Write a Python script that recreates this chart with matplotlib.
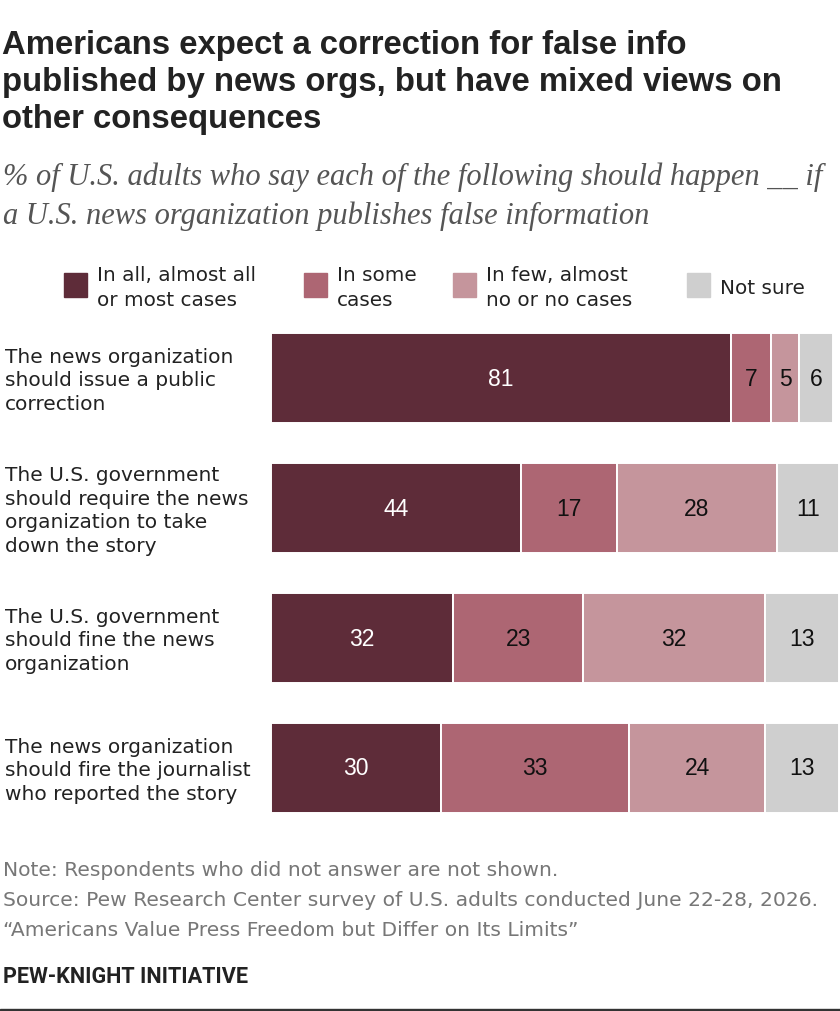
import numpy as np
import matplotlib
matplotlib.use('agg')
import matplotlib.pyplot as plt

# data
categories = ['The news organization\nshould issue a public\ncorrection',
              'The U.S. government\nshould require the news\norganization to take\ndown the story',
              'The U.S. government\nshould fine the news\norganization',
              'The news organization\nshould fire the journalist\nwho reported the story']
series = ['In all, almost all\nor most cases', 'In some\ncases',
          'In few, almost\nno or no cases', 'Not sure']
all_most = [81, 44, 32, 30]
some = [7, 17, 23, 33]
few_none = [5, 28, 32, 24]
not_sure = [6, 11, 13, 13]

colors = ['#5e2c39', '#ad6673', '#c5959c', '#cfcfcf']
txt_colors = ['white', '#111111', '#111111', '#111111']

W, H = 840, 1012
fig = plt.figure(figsize=(W/100, H/100), dpi=100)

def fx(x): return x / W
def fy(y): return 1 - y / H

# title and subtitle
fig.text(fx(2), fy(30), 'Americans expect a correction for false info\npublished by news orgs, but have mixed views on\nother consequences',
         fontsize=23.7, fontweight='bold', family='Liberation Sans', color='#222222',
         va='top', ha='left', linespacing=1.26)
fig.text(fx(3), fy(163), '% of U.S. adults who say each of the following should happen __ if\na U.S. news organization publishes false information',
         fontsize=22, style='italic', family='Liberation Serif', color='#555555',
         va='top', ha='left', linespacing=1.42)

# legend
leg_sq = [64, 304, 453, 687]
for i, (lab, c) in enumerate(zip(series, colors)):
    fig.patches.append(plt.Rectangle((fx(leg_sq[i]), fy(298)), 23/W, 24/H,
                                     transform=fig.transFigure, color=c))
    fig.text(fx(leg_sq[i] + 33), fy(288), lab, fontsize=14.4, family='DejaVu Sans',
             color='#222222', va='center', ha='left', linespacing=1.38)

# bars
ax = fig.add_axes([fx(271), fy(834), (839 - 271) / W, 520 / H])
y = np.arange(len(categories))
left = np.zeros(len(categories))
for vals, c, tc in zip([all_most, some, few_none, not_sure], colors, txt_colors):
    vals = np.array(vals)
    ax.barh(y, vals, left=left, height=0.685, color=c, edgecolor='white', linewidth=1.4)
    for yi, v, l in zip(y, vals, left):
        ax.text(l + v / 2, yi, str(v), ha='center', va='center', fontsize=16.5,
                family='Liberation Sans', color=tc)
    left += vals
ax.set_xlim(0, 100)
ax.set_ylim(3.5, -0.5)
ax.axis('off')

for yi, cat in zip(y, categories):
    fig.text(fx(5), fy(381 + 130 * yi), cat, fontsize=14.5, family='DejaVu Sans',
             color='#222222', va='center', ha='left', linespacing=1.3)

# notes
notes = ['Note: Respondents who did not answer are not shown.',
         'Source: Pew Research Center survey of U.S. adults conducted June 22-28, 2026.',
         '\u201cAmericans Value Press Freedom but Differ on Its Limits\u201d']
for i, n in enumerate(notes):
    fig.text(fx(3), fy(871 + 30 * i), n, fontsize=14.6, family='DejaVu Sans',
             color='#777777', va='center', ha='left')
fig.text(fx(3), fy(977), 'PEW-KNIGHT INITIATIVE', fontsize=15.6, family='Roboto',
         fontweight='bold', color='#222222', va='center', ha='left')
fig.patches.append(plt.Rectangle((0, 0), 1, 2.5 / H, transform=fig.transFigure, color='#333333'))

plt.savefig('out.png', dpi=100)
plt.close()
